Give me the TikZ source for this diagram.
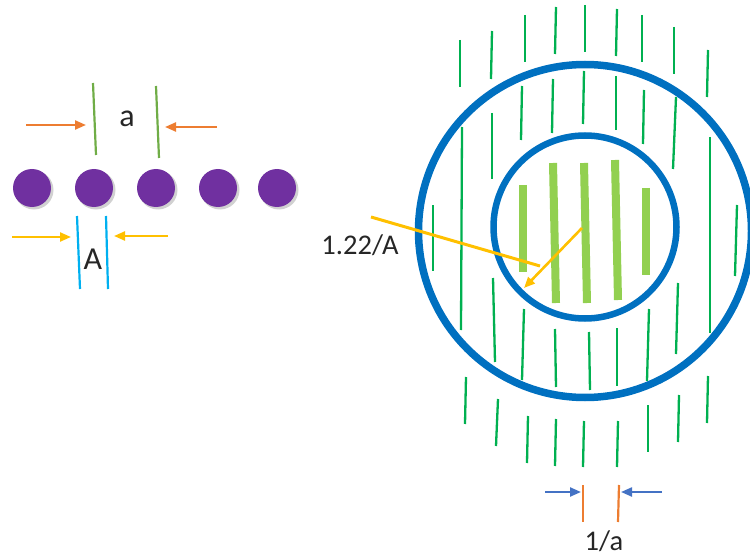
\documentclass[tikz,border=0pt]{standalone}
\usepackage{fontspec}
\setmainfont{Carlito}
\usetikzlibrary{arrows.meta}
\definecolor{lgreen}{HTML}{70AD47}
\definecolor{cyanA}{HTML}{00B0F0}
\definecolor{orng}{HTML}{ED7D31}
\definecolor{yel}{HTML}{FFC000}
\definecolor{dgreen}{HTML}{00B050}
\definecolor{bargreen}{HTML}{92D050}
\definecolor{ringblue}{HTML}{0070C0}
\definecolor{arrblue}{HTML}{4472C4}
\definecolor{purp}{HTML}{7030A0}
\definecolor{txt}{HTML}{262626}
\tikzset{
  thinline/.style={draw=dgreen, line width=2.3pt},
  thickbar/.style={draw=bargreen, line width=8pt},
  ring/.style={draw=ringblue, line width=7.5pt},
  atom/.style={circle, fill=purp, minimum size=38pt, inner sep=0pt},
  atomshadow/.style={circle, fill=black, opacity=0.18, minimum size=39pt, inner sep=0pt},
  marka/.style={draw=lgreen, line width=2.2pt},
  markA/.style={draw=cyanA, line width=2.2pt},
  markinv/.style={draw=orng, line width=2.2pt},
  oarrow/.style={draw=orng, line width=2.2pt, -{Triangle[length=11pt,width=9pt]}},
  yarrow/.style={draw=yel, line width=2.2pt, -{Triangle[length=11pt,width=9pt]}},
  barrow/.style={draw=arrblue, line width=2.2pt, -{Triangle[length=11pt,width=9pt]}},
  lbl/.style={text=txt, inner sep=0pt, font=\fontsize{32}{34}\selectfont},
  lbls/.style={text=txt, inner sep=0pt, font=\fontsize{28.5}{30}\selectfont},
}
\begin{document}
\begin{tikzpicture}[x=1pt,y=-1pt]
\useasboundingbox (0,0) rectangle (750,559);
\begin{scope}
\clip (0,0) rectangle (750,559);
% ---------- left: lattice ----------
\foreach \i/\x in {1/32,2/94,3/156,4/218,5/277}{
  \node[atomshadow] at (\x+2,190) {};
  \node[atom] (atom\i) at (\x,188) {};
}
% a spacing
\coordinate (a1t) at (93,83);  \coordinate (a1b) at (96,155);
\coordinate (a2t) at (156,86); \coordinate (a2b) at (159,158);
\draw[marka] (a1t) -- (a1b);
\draw[marka] (a2t) -- (a2b);
\node[lbl] (la) at (127,119) {a};
\coordinate (oa1s) at (26,125);  \coordinate (oa1e) at (86,125);
\coordinate (oa2s) at (217,127); \coordinate (oa2e) at (165,127);
\draw[oarrow] (oa1s) -- (oa1e);
\draw[oarrow] (oa2s) -- (oa2e);
% A width
\coordinate (A1t) at (77,216);  \coordinate (A1b) at (80,289);
\coordinate (A2t) at (106,216); \coordinate (A2b) at (108,289);
\draw[markA] (A1t) -- (A1b);
\draw[markA] (A2t) -- (A2b);
\node[lbl] (lA) at (93,259) {A};
\coordinate (ya1s) at (12,237);  \coordinate (ya1e) at (71,237);
\coordinate (ya2s) at (168,236); \coordinate (ya2e) at (114,236);
\draw[yarrow] (ya1s) -- (ya1e);
\draw[yarrow] (ya2s) -- (ya2e);
% ---------- right: diffraction ----------
\foreach \xa/\ya/\xb/\yb in {
  460/40/460/87, 492/31/491/79, 525/15/525/62, 556/7/555/54, 585/5/585/52,
  617/9/616/56, 642/15/642/62, 674/27/674/74, 708/50/707/97,
  522/86/521/140, 553/79/552/133, 584/71/583/124, 616/76/616/130, 644/90/643/144,
  676/97/673/169, 492/113/492/179, 462/127/461/330, 433/205/433/271,
  710/137/710/333, 737/205/735/276,
  493/278/495/362, 524/309/522/380, 555/329/556/387, 589/332/590/390,
  617/328/617/386, 649/309/647/381, 678/283/676/354,
  466/377/465/424, 498/399/496/446, 528/416/527/463, 556/419/555/466,
  584/421/583/467, 618/421/617/467, 648/405/648/452, 679/395/678/442,
  708/376/707/423}{
  \draw[thinline] (\xa,\ya) -- (\xb,\yb);
}
\foreach \xa/\ya/\xb/\yb in {
  523/185/523/272, 553/163/556/303, 584/163/587/303, 615/160/618/300, 646/188/646/275}{
  \draw[thickbar] (\xa,\ya) -- (\xb,\yb);
}
\node[ring, circle, minimum size=333pt, inner sep=0pt] (outer) at (585,231) {};
\node[ring, circle, minimum size=183pt, inner sep=0pt, line width=6.5pt] (inner) at (585,227) {};
% 1.22/A
\node[lbls] (l122) at (360,245) {1.22/A};
\coordinate (ylong1) at (371,217); \coordinate (ylong2) at (540,266);
\draw[draw=yel, line width=3pt] (ylong1) -- (ylong2);
\coordinate (yc) at (582,228); \coordinate (ytip) at (524,288);
\draw[yarrow, line width=2.6pt] (yc) -- (ytip);
% 1/a
\coordinate (r1t) at (583,485); \coordinate (r1b) at (583,522);
\coordinate (r2t) at (619,485); \coordinate (r2b) at (618,522);
\draw[markinv] (r1t) -- (r1b);
\draw[markinv] (r2t) -- (r2b);
\coordinate (ba1s) at (545,492); \coordinate (ba1e) at (581,492);
\coordinate (ba2s) at (662,492); \coordinate (ba2e) at (621,492);
\draw[barrow] (ba1s) -- (ba1e);
\draw[barrow] (ba2s) -- (ba2e);
\node[lbls] (linv) at (604,541) {1/a};
\end{scope}
\end{tikzpicture}
\end{document}
